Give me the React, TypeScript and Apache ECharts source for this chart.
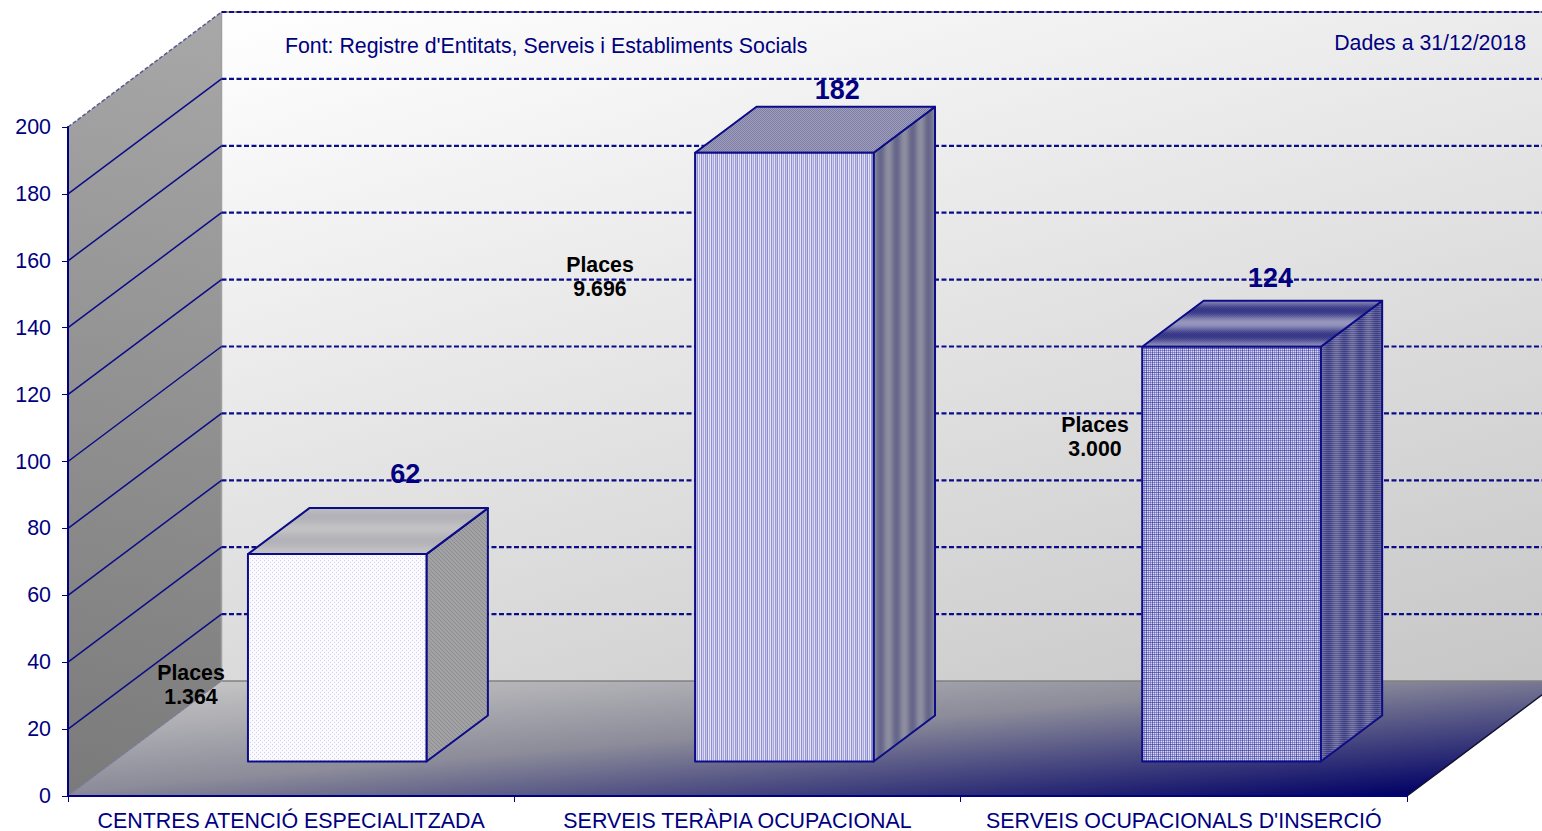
import React, { useEffect, useRef } from "react";
import * as echarts from "echarts";

const categories = ["CENTRES ATENCIÓ ESPECIALITZADA", "SERVEIS TERÀPIA OCUPACIONAL", "SERVEIS OCUPACIONALS D'INSERCIÓ"];
const centres = [62, 182, 124];
const places = ["1.364", "9.696", "3.000"];
const yTicks = [20, 40, 60, 80, 100, 120, 140, 160, 180, 200];
const sourceText = "Font: Registre d'Entitats, Serveis i Establiments Socials";
const dateText = "Dades a 31/12/2018";

const placeLabelAnchors = [[191, 685], [600, 277], [1095, 437]];
const valueLabelOffsets = [[68, -80], [53, -63], [39, -69]];
const NAVY = "#000080";
const EDGE = "#0c0c88";
const FONT = "'Liberation Sans', Arial, sans-serif";
const DEPTH_X = 153.5;
const DEPTH_Y = 115;

function tile(w: number, h: number, draw: (c: CanvasRenderingContext2D) => void) {
  const canvas = document.createElement("canvas");
  canvas.width = w;
  canvas.height = h;
  draw(canvas.getContext("2d")!);
  return { image: canvas, repeat: "repeat", imageWidth: w, imageHeight: h } as any;
}
function mix(a: number[], b: number[], t: number) {
  return `rgb(${a.map((v, i) => Math.round(v + (b[i] - v) * t)).join(",")})`;
}
function bands(t: number) {
  return 0.5 + 0.5 * Math.cos(t * Math.PI * 2);
}

function buildPatterns() {
  const front1 = tile(4, 4, (c) => {
    c.fillStyle = "#fafafe";
    c.fillRect(0, 0, 4, 4);
    c.fillStyle = "#d2d2ef";
    c.fillRect(0, 0, 1, 1);
    c.fillRect(2, 2, 1, 1);
  });
  const front2 = tile(10, 2, (c) => {
    ["#e4e4f6", "#8f8fd0", "#d0d0ee", "#a8a8dc", "#e0e0f4", "#9a9ad6", "#c4c4e8", "#8f8fd0", "#e4e4f6", "#acacdf"].forEach((col, x) => {
      c.fillStyle = col;
      c.fillRect(x, 0, 1, 2);
    });
  });
  const front3 = tile(12, 12, (c) => {
    c.fillStyle = "#d8d8f2";
    c.fillRect(0, 0, 12, 12);
    for (let i = 0; i < 12; i += 2) {
      const a = i % 6 === 0 ? 0.55 : 0.34;
      c.fillStyle = `rgba(30,30,150,${a})`;
      c.fillRect(i, 0, 1, 12);
      c.fillRect(0, i, 12, 1);
    }
  });
  const top1 = tile(2, 24, (c) => {
    for (let y = 0; y < 24; y++) {
      c.fillStyle = mix([178, 178, 184], [194, 194, 196], bands(y / 24));
      c.fillRect(0, y, 2, 1);
    }
  });
  const side1 = tile(4, 4, (c) => {
    c.fillStyle = "#a2a2a4";
    c.fillRect(0, 0, 4, 4);
    c.fillStyle = "#8c8c92";
    c.fillRect(0, 0, 1, 1);
    c.fillRect(1, 1, 1, 1);
    c.fillRect(2, 2, 1, 1);
    c.fillRect(3, 3, 1, 1);
  });
  const top2 = tile(2, 2, (c) => {
    c.fillStyle = "#a0a0bc";
    c.fillRect(0, 0, 2, 2);
    c.fillStyle = "#7c7ca4";
    c.fillRect(0, 0, 1, 1);
    c.fillRect(1, 1, 1, 1);
  });
  const side2 = tile(16, 2, (c) => {
    for (let x = 0; x < 16; x++) {
      c.fillStyle = mix([142, 142, 160], [102, 102, 138], bands(x / 16));
      c.fillRect(x, 0, 1, 2);
    }
  });
  const top3 = tile(2, 25, (c) => {
    for (let y = 0; y < 25; y++) {
      const t = bands((y - 10) / 25);
      for (let x = 0; x < 2; x++) {
        c.fillStyle = mix([150, 150, 188], [48, 48, 132], (y + x) % 2 ? t : t * 0.85);
        c.fillRect(x, y, 1, 1);
      }
    }
  });
  const side3 = tile(16, 2, (c) => {
    for (let x = 0; x < 16; x++) {
      const t = bands(x / 16);
      c.fillStyle = mix([124, 124, 164], [92, 92, 150], t);
      c.fillRect(x, 0, 1, 1);
      c.fillStyle = mix([92, 92, 150], [60, 60, 130], t);
      c.fillRect(x, 1, 1, 1);
    }
  });
  return { fronts: [front1, front2, front3], tops: [top1, top2, top3], sides: [side1, side2, side3] };
}

export default function App() {
  const ref = useRef<HTMLDivElement>(null);
  useEffect(() => {
    const chart = echarts.init(ref.current!, null, { renderer: "svg" });
    const p = buildPatterns();

    const renderRoom = (params: any, api: any) => {
      const cs = params.coordSys;
      const L = cs.x;
      const R = cs.x + cs.width;
      const T = cs.y;
      const B = cs.y + cs.height;
      const poly = (points: number[][], style: any) => ({ type: "polygon", shape: { points }, style });
      const children: any[] = [
        poly([[L + DEPTH_X, T - DEPTH_Y], [R + DEPTH_X, T - DEPTH_Y], [R + DEPTH_X, B - DEPTH_Y], [L + DEPTH_X, B - DEPTH_Y]], {
          fill: new echarts.graphic.LinearGradient(L + DEPTH_X, T - DEPTH_Y, L + DEPTH_X + 296, T - DEPTH_Y + 1070, [
            { offset: 0, color: "#ffffff" },
            { offset: 1, color: "#c0c0c0" },
          ], true),
        }),
        poly([[L, T], [L + DEPTH_X, T - DEPTH_Y], [L + DEPTH_X, B - DEPTH_Y], [L, B]], {
          fill: new echarts.graphic.LinearGradient(L + DEPTH_X, T - DEPTH_Y, L, B, [
            { offset: 0, color: "#a8a8a8" },
            { offset: 1, color: "#7a7a7a" },
          ], true),
        }),
        poly([[L, B], [L + DEPTH_X, B - DEPTH_Y], [R + DEPTH_X, B - DEPTH_Y], [R, B]], {
          fill: new echarts.graphic.LinearGradient(L + DEPTH_X, B - DEPTH_Y, L + DEPTH_X + 18.5, B - DEPTH_Y + 215, [
            { offset: 0, color: "#c4c4c4" },
            { offset: 0.45, color: "#8c8c9a" },
            { offset: 1, color: "#000066" },
          ], true),
        }),
        { type: "line", shape: { x1: L + DEPTH_X, y1: T - DEPTH_Y, x2: L + DEPTH_X, y2: B - DEPTH_Y }, style: { stroke: "#a0a0a0", lineWidth: 1.5 } },
        { type: "line", shape: { x1: L + DEPTH_X, y1: T - DEPTH_Y, x2: R + DEPTH_X, y2: T - DEPTH_Y }, style: { stroke: "#a0a0a0", lineWidth: 2 } },
        { type: "line", shape: { x1: L + DEPTH_X, y1: B - DEPTH_Y, x2: R + DEPTH_X, y2: B - DEPTH_Y }, style: { stroke: "#808080", lineWidth: 1.5 } },
        { type: "line", shape: { x1: L, y1: B, x2: L + DEPTH_X, y2: B - DEPTH_Y }, style: { stroke: "#7878a0", lineWidth: 1 } },
        { type: "line", shape: { x1: R, y1: B, x2: R + DEPTH_X, y2: B - DEPTH_Y }, style: { stroke: "#101030", lineWidth: 1.5 } },
      ];
      yTicks.forEach((v) => {
        const y = api.coord([0, v])[1];
        const top = v === yTicks[yTicks.length - 1];
        children.push({
          type: "line",
          shape: { x1: L, y1: y, x2: L + DEPTH_X, y2: y - DEPTH_Y },
          style: top
            ? { stroke: "#5a5a90", lineWidth: 1.5, lineDash: [4, 2] }
            : { stroke: EDGE, lineWidth: 1.5 },
        });
        children.push({
          type: "line",
          shape: { x1: L + DEPTH_X, y1: y - DEPTH_Y, x2: R + DEPTH_X, y2: y - DEPTH_Y },
          style: { stroke: EDGE, lineWidth: 2.2, lineDash: [5, 2.5] },
        });
      });
      return { type: "group", children };
    };

    const renderBar = (params: any, api: any) => {
      const i = api.value(0);
      const base = api.coord([i, 0]);
      const topPt = api.coord([i, api.value(1)]);
      const band = api.size([1, 0])[0];
      const w = band * 0.4;
      const ox = DEPTH_X * 0.3;
      const oy = -DEPTH_Y * 0.3;
      const dx = DEPTH_X * 0.4;
      const dy = -DEPTH_Y * 0.4;
      const x0 = base[0] - w / 2 + ox + i * 0.8;
      const x1 = x0 + w;
      const yb = base[1] + oy;
      const yt = topPt[1] + oy;
      const edge = { stroke: EDGE, lineWidth: 2, lineJoin: "round" };
      return {
        type: "group",
        children: [
          { type: "polygon", shape: { points: [[x1, yb], [x1 + dx, yb + dy], [x1 + dx, yt + dy], [x1, yt]] }, style: { fill: p.sides[i], ...edge } },
          { type: "polygon", shape: { points: [[x0, yt], [x1, yt], [x1 + dx, yt + dy], [x0 + dx, yt + dy]] }, style: { fill: p.tops[i], ...edge } },
          { type: "polygon", shape: { points: [[x0, yb], [x1, yb], [x1, yt], [x0, yt]] }, style: { fill: p.fronts[i], ...edge } },
          {
            type: "text",
            x: x0 + w / 2 + valueLabelOffsets[i][0],
            y: yt + valueLabelOffsets[i][1],
            style: { text: String(api.value(1)), fill: NAVY, font: `bold 27px ${FONT}`, align: "center", verticalAlign: "middle" },
          },
        ],
      };
    };

    chart.setOption({
      animation: false,
      backgroundColor: "#ffffff",
      textStyle: { fontFamily: FONT },
      grid: { left: 68, right: 135, top: 127, bottom: 35, containLabel: false },
      xAxis: {
        type: "category",
        data: categories,
        z: 5,
        axisLine: { lineStyle: { color: NAVY, width: 2 } },
        axisTick: { show: true, length: 6, lineStyle: { color: NAVY, width: 1 } },
        axisLabel: { color: NAVY, fontSize: 21.4, fontFamily: FONT, margin: 14, interval: 0 },
      },
      yAxis: {
        type: "value",
        min: 0,
        max: 200,
        interval: 20,
        z: 5,
        axisLine: { show: true, lineStyle: { color: NAVY, width: 2 } },
        axisTick: { show: true, length: 6, lineStyle: { color: NAVY, width: 1 } },
        axisLabel: { color: NAVY, fontSize: 21.4, fontFamily: FONT, margin: 17 },
        splitLine: { show: false },
      },
      series: [
        { type: "custom", z: 1, clip: false, silent: true, renderItem: renderRoom, data: [[0, 0]] },
        {
          type: "custom",
          z: 2,
          clip: false,
          silent: true,
          renderItem: renderBar,
          encode: { x: 0, y: 1 },
          data: centres.map((v, i) => [i, v]),
        },
      ],
      graphic: [
        { type: "text", x: 285, y: 46, z: 10, style: { text: sourceText, fill: NAVY, font: `21.3px ${FONT}`, verticalAlign: "middle" } },
        { type: "text", x: 1526, y: 43, z: 10, style: { text: dateText, fill: NAVY, font: `21.3px ${FONT}`, align: "right", verticalAlign: "middle" } },
        ...places.map((t, i) => ({
          type: "text",
          x: placeLabelAnchors[i][0],
          y: placeLabelAnchors[i][1],
          z: 10,
          style: { text: `Places\n${t}`, fill: "#000000", font: `bold 21.3px ${FONT}`, lineHeight: 24, align: "center", verticalAlign: "middle" },
        })),
      ],
    });
    return () => chart.dispose();
  }, []);
  return <div ref={ref} style={{ position: "fixed", left: 0, top: 0, width: 1542, height: 831 }} />;
}
